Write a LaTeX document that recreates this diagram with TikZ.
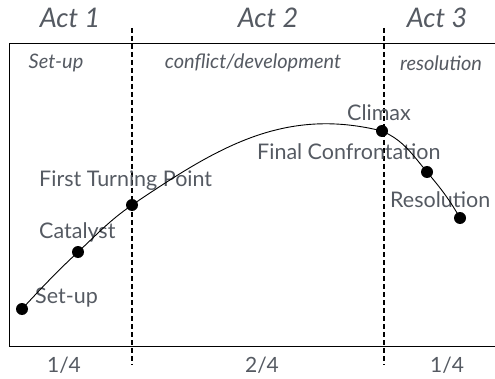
\documentclass[tikz,border=0pt]{standalone}
\usepackage{fontspec}
\setmainfont{Lato}
\definecolor{labelgray}{RGB}{85,90,98}
\begin{document}
\begin{tikzpicture}[x=1pt,y=1pt,
  txt/.style={text=labelgray, inner sep=0},
  act/.style={txt, font=\fontsize{27}{27}\selectfont\itshape},
  phase/.style={txt, font=\fontsize{20}{20}\selectfont\itshape},
  lbl/.style={txt, anchor=west, font=\fontsize{21.5}{21.5}\selectfont},
  frac/.style={txt, font=\fontsize{21}{21}\selectfont},
  dot/.style={fill, circle, inner sep=0, minimum size=12pt},
  divider/.style={line width=2.2pt, dash pattern=on 5pt off 3pt}]
\useasboundingbox (0,0) rectangle (495,378);
% frame
\draw[line width=1pt] (495,334) -- (9,334) -- (9,32) -- (495,32);
% act borders
\draw[divider] (132,350) -- (132,13);
\draw[divider] (384,350) -- (384,13);
% headers
\node[act] (act1) at (70,360) {Act 1};
\node[act] (act2) at (268,360) {Act 2};
\node[act] (act3) at (437,360) {Act 3};
\node[phase] (ph1) at (56,315) {Set-up};
\node[phase] (ph2) at (253,315) {conflict/development};
\node[phase] (ph3) at (441,315) {resolution};
\node[frac] (f1) at (64,13) {1/4};
\node[frac] (f2) at (262,13) {2/4};
\node[frac] (f3) at (447,13) {1/4};
% labels
\node[lbl] (lsetup) at (35,80) {Set-up};
\node[lbl] (lcat) at (39,146) {Catalyst};
\node[lbl] (lftp) at (39,197) {First Turning Point};
\node[lbl] (lclimax) at (347,265) {Climax};
\node[lbl] (lfinal) at (257,226) {Final Confrontation};
\node[lbl] (lres) at (390,178) {Resolution};
% story arc
\node[dot] (setup) at (22,69) {};
\node[dot] (catalyst) at (78,126) {};
\node[dot] (turning) at (132,173) {};
\node[dot] (climax) at (382,247) {};
\node[dot] (final) at (427,206) {};
\node[dot] (resolution) at (460,160) {};
\draw[line width=0.9pt] (setup.center) to[out=47,in=-137] (catalyst.center)
  to[out=43,in=-145] (turning.center)
  to[out=34,in=166] (climax.center)
  to[out=-24,in=130] (final.center)
  to[out=-50,in=120] (resolution.center);
\end{tikzpicture}
\end{document}
